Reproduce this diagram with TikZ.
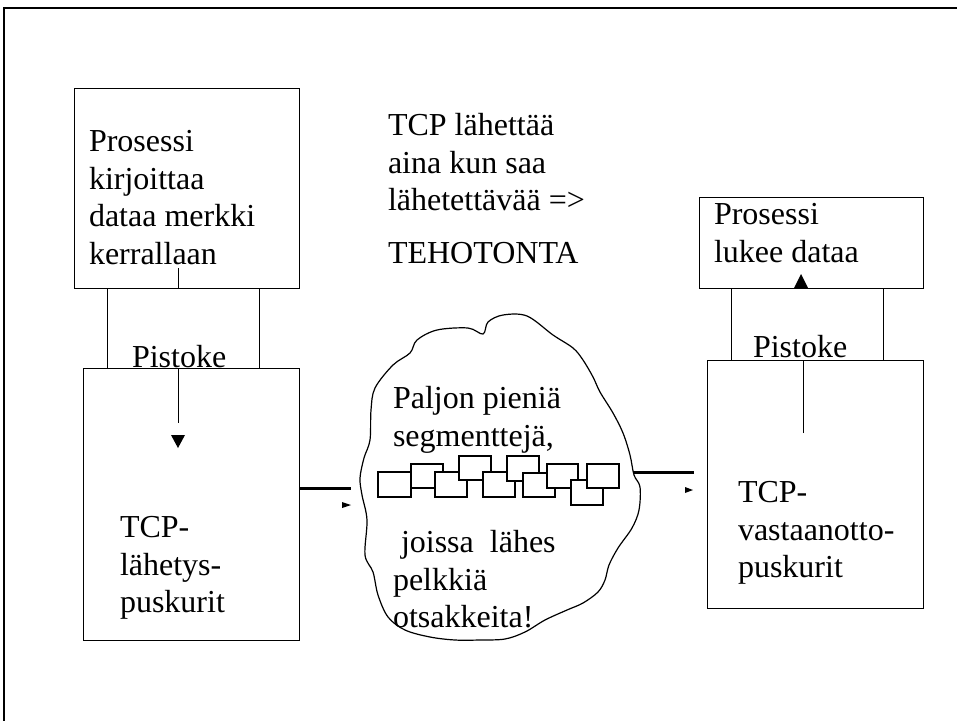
\documentclass[tikz,border=0pt]{standalone}
\usepackage{fontspec}
\setmainfont{Liberation Serif}
\begin{document}
\begin{tikzpicture}[x=1pt,y=-1pt,
  box/.style={draw, line width=1pt, fill=white, inner sep=0pt, outer sep=0pt, anchor=north west},
  lbl/.style={anchor=north west, inner sep=0pt, outer sep=0pt, align=left,
              font=\fontsize{32}{37.5}\selectfont, execute at begin node=\strut},
  conn/.style={line width=1pt},
  heavyconn/.style={line width=3pt},
  tip/.style={fill=black},
  seg/.style={draw, line width=1.2pt, fill=white, inner sep=0pt, outer sep=0pt,
              anchor=north west, minimum width=32pt, minimum height=24pt},
]
\useasboundingbox (0,0) rectangle (957,720);
\clip (0,0) rectangle (957,720);

% page frame
\draw[line width=1.8pt] (4,730) -- (4,8) -- (965,8);

% sender and receiver boxes
\node[box, minimum width=225pt, minimum height=200pt] (wproc) at (74,88) {};
\node[box, minimum width=216pt, minimum height=272pt] (wtcp) at (83,368) {};
\node[box, minimum width=224pt, minimum height=91pt] (rproc) at (699,197) {};
\node[box, minimum width=216pt, minimum height=248pt] (rtcp) at (707,360) {};

% the network cloud
\draw[line width=1.2pt, fill=white] plot[smooth cycle, tension=0.55] coordinates {
  (375,388) (393,365) (410,353) (417,340) (437,330) (468,328) (483,334)
  (488,322) (503,315) (527,316) (553,335) (573,348) (583,360) (593,377)
  (600,392) (613,413) (623,433) (630,455) (634,475) (640,487) (639,510)
  (632,528) (618,548) (609,565) (605,580) (598,592) (583,603) (567,610)
  (545,620) (525,632) (505,639) (480,640) (455,640) (430,637) (405,630)
  (388,617) (378,595) (373,572) (365,555) (367,520) (362,495) (360,478)
  (364,458) (370,440) (371,410)};

% small segments
\node[seg, minimum width=33pt, minimum height=25pt] (s1) at (378,472) {};
\node[seg] (s2) at (411,464) {};
\node[seg, minimum height=25pt] (s3) at (435,472) {};
\node[seg] (s4) at (459,456) {};
\node[seg, minimum height=25pt] (s5) at (483,472) {};
\node[seg, minimum height=25pt] (s6) at (507,456) {};
\node[seg, minimum height=24pt] (s7) at (523,473) {};
\node[seg, minimum width=31pt] (s8) at (547,464) {};
\node[seg, minimum height=25pt] (s9) at (571,480) {};
\node[seg] (s10) at (587,464) {};

% data flow through the sockets
\coordinate (wdn0) at (178,268);
\coordinate (wdn1) at (178,423);
\draw[conn] (wdn0) -- (wdn1);
\fill[tip] (171,435) -- (185,435) -- (178,448) -- cycle;

\coordinate (rup0) at (803,433);
\coordinate (rup1) at (803,280);
\draw[conn] (rup0) -- (rup1);
\fill[tip] (794,288) -- (808,288) -- (801,274) -- cycle;

% links into and out of the network
\coordinate (wout) at (299,488);
\coordinate (cin) at (351,488);
\draw[heavyconn] (wout) -- (cin);
\fill[tip] (342,502) -- (351,505) -- (342,508) -- cycle;

\coordinate (cout) at (633,472);
\coordinate (rin) at (694,472);
\draw[heavyconn] (cout) -- (rin);
\fill[tip] (685,487) -- (693,490) -- (685,493) -- cycle;

% sockets
\node[box, minimum width=152pt, minimum height=80pt] (wsock) at (107,288) {};
\node[box, minimum width=152pt, minimum height=72pt] (rsock) at (731,288) {};

% texts
\node[lbl] (wproct) at (89,130.75) {Prosessi\\kirjoittaa\\dataa merkki\\kerrallaan};
\node[lbl] (wsockt) at (132,340.75) {Pistoke};
\node[lbl] (wtcpt) at (120,516.75) {TCP-\\lähetys-\\puskurit};
\node[lbl] (note) at (388,113.75) {TCP lähettää\\aina kun saa\\lähetettävää =>\\[15.5pt]TEHOTONTA};
\node[lbl] (cloudt1) at (393,386.75) {Paljon pieniä\\segmenttejä,};
\node[lbl] (cloudt2) at (393,530.75) {\ joissa\ \ lähes\\pelkkiä\\otsakkeita!};
\node[lbl] (rproct) at (714,203.75) {Prosessi\\lukee dataa};
\node[lbl] (rsockt) at (753,330.75) {Pistoke};
\node[lbl] (rtcpt) at (738,481.75) {TCP-\\vastaanotto-\\puskurit};
\end{tikzpicture}
\end{document}
